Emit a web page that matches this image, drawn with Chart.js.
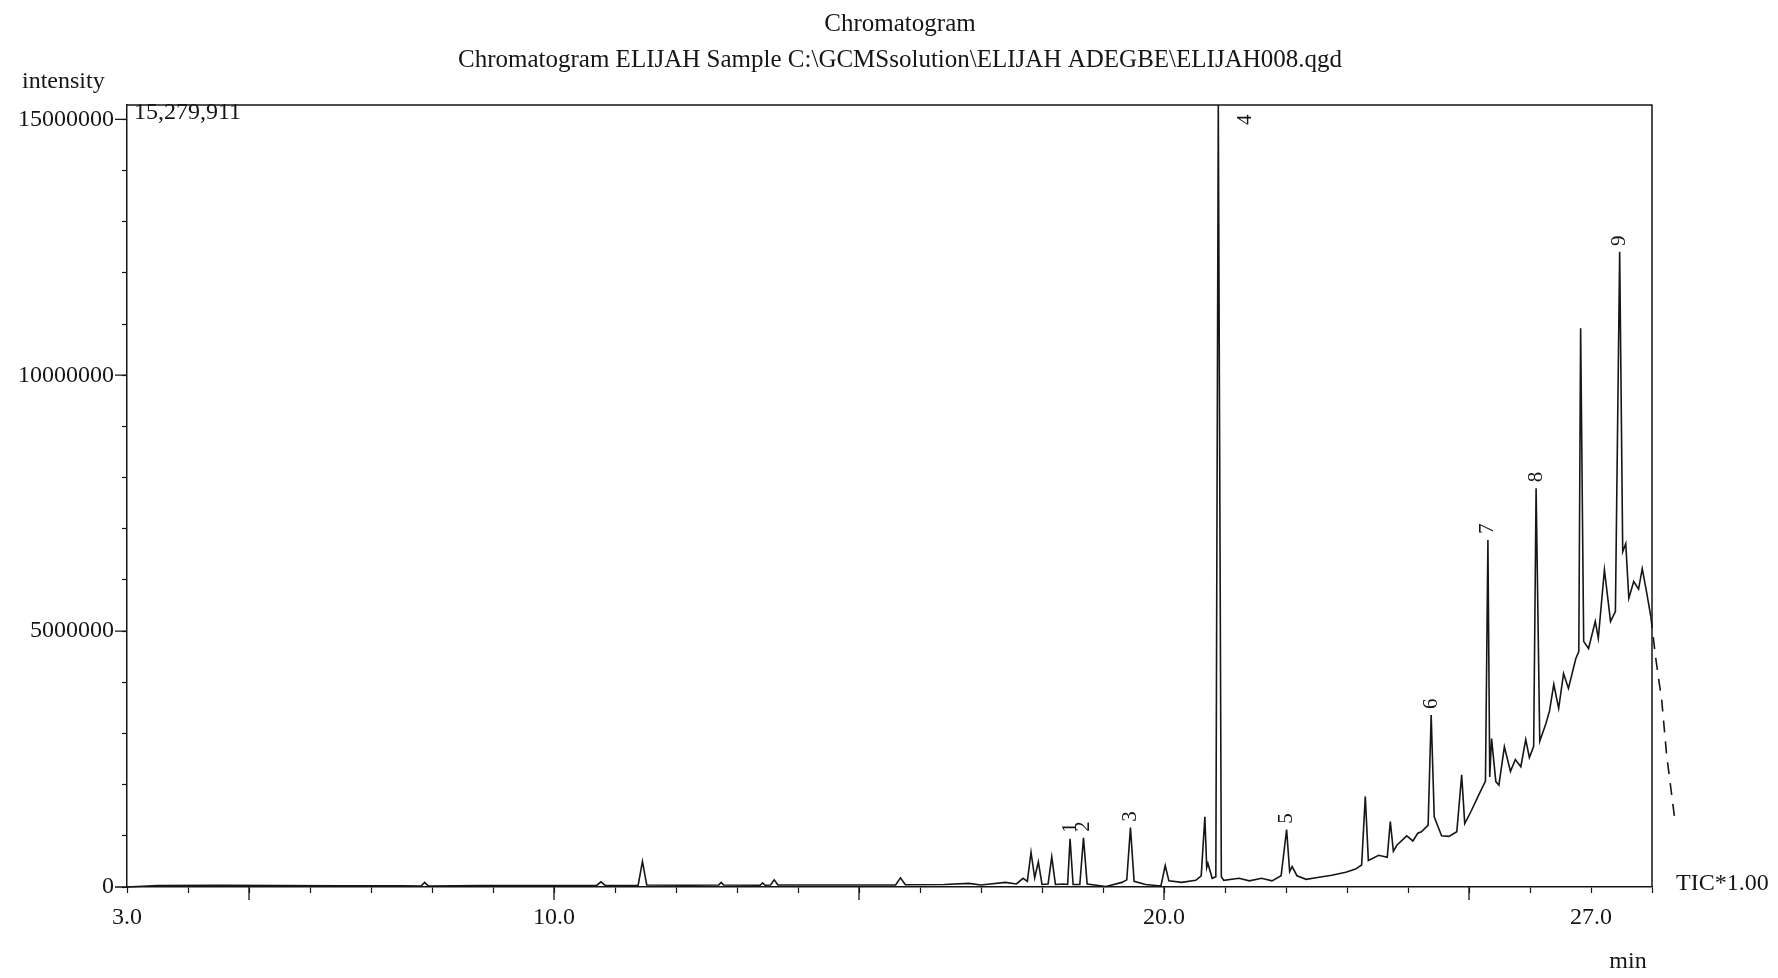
<!DOCTYPE html>
<html>
<head>
<meta charset="utf-8">
<title>Chromatogram</title>
<script src="https://cdn.jsdelivr.net/npm/chart.js@4.4.0/dist/chart.umd.min.js"></script>
<style>
  html, body { margin: 0; padding: 0; background: #fff; }
  #wrap { width: 1778px; height: 978px; }
</style>
</head>
<body>
<div id="wrap"><canvas id="tic" width="1778" height="978"></canvas></div>
<script>
// retention time (min) and TIC intensity
const retentionTimes = [
  3.00, 3.50, 4.50, 5.50, 6.50, 7.50, 7.82, 7.88, 7.94, 8.80, 9.80,
  10.70, 10.77, 10.84, 11.38, 11.45, 11.52, 12.20, 12.70, 12.74, 12.78,
  13.38, 13.42, 13.46, 13.55, 13.61, 13.67, 14.50, 15.60, 15.68, 15.76,
  16.40, 16.80, 17.00, 17.40, 17.58, 17.69, 17.76, 17.82, 17.88, 17.94,
  18.00, 18.10, 18.16, 18.22, 18.35, 18.42, 18.46, 18.51, 18.62, 18.68,
  18.74, 19.05, 19.31, 19.39, 19.45, 19.51, 19.70, 19.95, 20.02, 20.08,
  20.29, 20.52, 20.61, 20.67, 20.70, 20.72, 20.79, 20.85, 20.89, 20.94,
  20.98, 21.23, 21.40, 21.60, 21.77, 21.92, 22.01, 22.06, 22.10, 22.18,
  22.33, 22.54, 22.75, 22.98, 23.14, 23.24, 23.30, 23.35, 23.52, 23.66,
  23.71, 23.76, 23.82, 23.98, 24.08, 24.16, 24.22, 24.33, 24.38, 24.43,
  24.55, 24.67, 24.80, 24.88, 24.93, 25.03, 25.16, 25.27, 25.31, 25.34,
  25.37, 25.44, 25.49, 25.58, 25.68, 25.76, 25.85, 25.93, 25.99, 26.06,
  26.10, 26.16, 26.26, 26.32, 26.39, 26.47, 26.55, 26.63, 26.75, 26.80,
  26.83, 26.88, 26.96, 27.07, 27.12, 27.22, 27.32, 27.40, 27.47, 27.52,
  27.57, 27.62, 27.70, 27.78, 27.84, 27.91, 27.98, 28.06, 28.16, 28.24,
  28.38
];
const intensities = [
  0, 30000, 35000, 30000, 25000, 25000, 20000, 90000, 20000, 30000, 30000,
  30000, 100000, 30000, 35000, 500000, 40000, 35000, 40000, 90000, 40000,
  35000, 80000, 35000, 40000, 140000, 40000, 40000, 40000, 180000, 45000,
  50000, 70000, 40000, 90000, 60000, 170000, 110000, 680000, 180000, 490000,
  50000, 60000, 590000, 50000, 60000, 50000, 940000, 50000, 50000, 960000,
  60000, 10000, 90000, 140000, 1160000, 110000, 50000, 20000, 420000, 120000,
  90000, 130000, 220000, 1370000, 380000, 460000, 170000, 200000, 15279911, 200000,
  130000, 170000, 120000, 170000, 120000, 220000, 1120000, 300000, 400000, 220000,
  150000, 190000, 230000, 290000, 350000, 430000, 1770000, 520000, 620000, 580000,
  1280000, 700000, 820000, 1000000, 900000, 1050000, 1080000, 1210000, 3360000, 1370000,
  1000000, 990000, 1080000, 2190000, 1240000, 1470000, 1800000, 2070000, 6780000, 2150000,
  2900000, 2060000, 1990000, 2740000, 2260000, 2490000, 2350000, 2880000, 2530000, 2750000,
  7790000, 2850000, 3190000, 3440000, 3960000, 3490000, 4170000, 3880000, 4460000, 4600000,
  10920000, 4800000, 4660000, 5190000, 4860000, 6200000, 5190000, 5380000, 12410000, 6550000,
  6710000, 5640000, 5970000, 5820000, 6220000, 5770000, 5290000, 4480000, 3640000, 2580000,
  1260000
];

// numbered peaks
const peakNumbers = ["1", "2", "3", "4", "5", "6", "7", "8", "9"];
const peakTimes = [18.46, 18.68, 19.45, 20.89, 22.01, 24.38, 25.31, 26.10, 27.47];

// axis labels
const xTickLabels = [3, 10, 20, 27];
const yTickLabels = [0, 5000000, 10000000, 15000000];
const longXTicks = [5, 10, 15, 20, 25];
const timeStart = 3;
const timeEnd = 28;
const maxIntensity = 15279911;

const titleLines = [
  "Chromatogram",
  "Chromatogram ELIJAH Sample C:\\GCMSsolution\\ELIJAH ADEGBE\\ELIJAH008.qgd"
];

const serif = "'Liberation Serif', 'Times New Roman', serif";
const ink = "#161616";

const decor = {
  id: "decor",
  afterDraw(chart) {
    const ctx = chart.ctx;
    const a = chart.chartArea;
    const xs = chart.scales.x;
    const ys = chart.scales.y;
    ctx.save();

    // frame top and right
    ctx.strokeStyle = ink;
    ctx.lineWidth = 1.5;
    ctx.beginPath();
    ctx.moveTo(a.left, a.top);
    ctx.lineTo(a.right, a.top);
    ctx.lineTo(a.right, a.bottom);
    ctx.stroke();

    // longer ticks
    ctx.lineWidth = 1.3;
    ctx.beginPath();
    longXTicks.forEach(v => {
      const px = xs.getPixelForValue(v);
      ctx.moveTo(px, a.bottom);
      ctx.lineTo(px, a.bottom + 13);
    });
    yTickLabels.forEach(v => {
      const py = ys.getPixelForValue(v);
      ctx.moveTo(a.left, py);
      ctx.lineTo(a.left - 12, py);
    });
    ctx.stroke();

    ctx.fillStyle = ink;
    ctx.font = "25px " + serif;
    ctx.textAlign = "center";
    ctx.textBaseline = "middle";
    ctx.fillText(titleLines[0], 900, 24);
    ctx.fillText(titleLines[1], 900, 60);

    ctx.textAlign = "left";
    ctx.font = "24px " + serif;
    ctx.fillText("intensity", 22, 82);
    ctx.fillText("15,279,911", a.left + 7, a.top + 8);
    ctx.fillText("TIC*1.00", a.right + 24, a.bottom - 3);
    ctx.textAlign = "center";
    ctx.fillText("min", 1628, 962);

    // peak numbers, printed sideways
    ctx.font = "21px " + serif;
    peakTimes.forEach((t, i) => {
      const k = retentionTimes.indexOf(t);
      let px = xs.getPixelForValue(t);
      let py = ys.getPixelForValue(intensities[k]) - 6;
      if (py < a.top + 20) {
        py = a.top + 20;
        px += 27;
      }
      ctx.save();
      ctx.translate(px, py);
      ctx.rotate(-Math.PI / 2);
      ctx.textAlign = "left";
      ctx.textBaseline = "middle";
      ctx.fillText(peakNumbers[i], 0, 0);
      ctx.restore();
    });

    ctx.restore();
  }
};

new Chart("tic", {
  type: "line",
  data: {
    datasets: [{
      data: retentionTimes.map((t, i) => ({ x: t, y: intensities[i] })),
      borderColor: ink,
      borderWidth: 1.6,
      pointRadius: 0,
      tension: 0,
      clip: false,
      segment: {
        borderDash: c => (c.p0.parsed.x >= 27.98 ? [12, 9] : undefined)
      }
    }]
  },
  options: {
    responsive: false,
    animation: false,
    layout: { padding: { left: 0, right: 126, top: 105, bottom: 30 } },
    plugins: {
      legend: { display: false },
      tooltip: { enabled: false }
    },
    scales: {
      x: {
        type: "linear",
        bounds: "data",
        // range set here so the trace that runs past the frame is still drawn
        afterDataLimits: s => { s.min = timeStart; s.max = timeEnd; },
        afterBuildTicks: s => {
          s.ticks = [];
          for (let v = timeStart; v <= timeEnd; v++) s.ticks.push({ value: v });
        },
        afterFit: s => { s.height = 61; },
        ticks: {
          autoSkip: false,
          maxRotation: 0,
          padding: 10,
          color: ink,
          font: { family: serif, size: 24 },
          callback: v => (xTickLabels.includes(v) ? v.toFixed(1) : "")
        },
        grid: { drawOnChartArea: false, tickLength: 6, color: ink, tickWidth: 1.2 },
        border: { display: true, color: ink, width: 1.5 }
      },
      y: {
        min: 0,
        max: maxIntensity,
        afterBuildTicks: s => {
          s.ticks = [];
          for (let v = 0; v <= 15000000; v += 1000000) s.ticks.push({ value: v });
        },
        afterFit: s => { s.width = 127; },
        ticks: {
          autoSkip: false,
          padding: 8,
          color: ink,
          font: { family: serif, size: 24 },
          callback: v => (yTickLabels.includes(v) ? String(v) : "")
        },
        grid: { drawOnChartArea: false, tickLength: 5, color: ink, tickWidth: 1.2 },
        border: { display: true, color: ink, width: 1.5 }
      }
    }
  },
  plugins: [decor]
});
</script>
</body>
</html>
